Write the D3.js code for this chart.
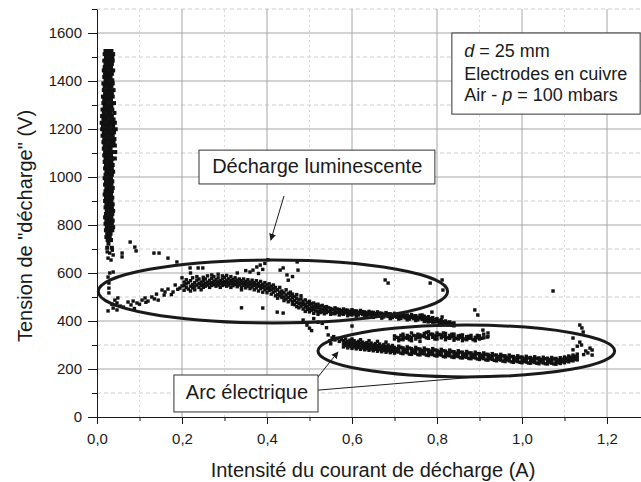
<!DOCTYPE html>
<html>
<head>
<meta charset="utf-8">
<style>
  body { margin: 0; background: #fff; }
  text { font-family: "Liberation Sans", Arial, sans-serif; fill: #1a1a1a; }
</style>
</head>
<body>
<script src="https://d3js.org/d3.v7.min.js"></script>
<script>
var width = 641, height = 482;

// axis ticks
var xTicks = [0, 0.2, 0.4, 0.6, 0.8, 1.0, 1.2];
var xMinor = [0.1, 0.3, 0.5, 0.7, 0.9, 1.1];
var yTicks = [0, 200, 400, 600, 800, 1000, 1200, 1400, 1600];
var yMinor = [100, 300, 500, 700, 900, 1100, 1300, 1500, 1700];

// pre-breakdown column: rows of voltage with the currents seen at that voltage
var barRows = [
  [1525, [.020, .027, .034]], [1512, [.018, .025, .033, .038]], [1498, [.021, .029, .036]],
  [1485, [.017, .024, .031, .037]], [1471, [.020, .028, .035]], [1458, [.018, .026, .033]],
  [1444, [.016, .023, .031, .038]], [1430, [.019, .027, .035]], [1417, [.017, .025, .032]],
  [1403, [.020, .028, .036]], [1390, [.015, .022, .030, .037]], [1376, [.018, .026, .034]],
  [1362, [.016, .024, .031, .039]], [1349, [.019, .027, .035]], [1335, [.014, .021, .029, .037]],
  [1322, [.017, .025, .033]], [1308, [.015, .023, .031, .040]], [1294, [.018, .026, .034]],
  [1281, [.013, .020, .028, .036]], [1267, [.016, .024, .032, .041]], [1254, [.012, .019, .027, .035]],
  [1240, [.015, .023, .031, .039]], [1226, [.011, .018, .026, .034, .042]], [1213, [.014, .022, .030, .038]],
  [1199, [.012, .020, .028, .036, .044]], [1186, [.016, .024, .032, .040]], [1172, [.013, .021, .029, .037]],
  [1158, [.017, .025, .033, .041]], [1145, [.015, .023, .031, .039]], [1131, [.018, .026, .034, .042]],
  [1118, [.016, .024, .032]], [1104, [.019, .027, .035, .043]], [1090, [.017, .025, .033]],
  [1077, [.020, .028, .036, .042]], [1063, [.018, .026, .034]], [1050, [.021, .029, .037]],
  [1036, [.019, .027, .035]], [1022, [.022, .030, .038]], [1009, [.020, .028, .035]],
  [995, [.018, .026, .033]], [982, [.021, .029, .036]], [968, [.019, .027, .034]],
  [954, [.022, .030, .037]], [941, [.020, .028, .035]], [927, [.018, .026, .033]],
  [914, [.021, .029, .036]], [900, [.019, .027, .034]], [886, [.022, .030, .037]],
  [873, [.020, .028, .035]], [859, [.023, .031, .038]], [846, [.021, .029, .036]],
  [832, [.019, .027, .034]], [818, [.022, .030, .037]], [805, [.020, .028, .035]],
  [791, [.023, .031, .038]], [778, [.021, .029, .036]], [764, [.024, .032]],
  [750, [.022, .030]], [737, [.025, .033]], [722, [.027]], [705, [.024, .035]]
];

// scattered points between the column and the glow discharge
var transPts = [
  [.024, 688], [.030, 683], [.038, 675], [.026, 662], [.033, 654], [.036, 695], [.059, 683], [.059, 667],
  [.078, 729], [.089, 708], [.092, 692], [.134, 683], [.146, 683], [.167, 662], [.188, 646],
  [.038, 604], [.026, 583], [.030, 600]
];

// glow discharge: currents with the voltages seen at that current
var glowCols = [
  [.028, [558, 537, 517]], [.026, [442]], [.035, [470]], [.038, [454]], [.042, [487]], [.047, [475, 446]],
  [.049, [496]], [.055, [462]], [.062, [458]], [.073, [479]], [.080, [467]], [.085, [483]],
  [.088, [452]], [.094, [475]], [.100, [470]], [.106, [487]], [.113, [496]], [.115, [478]],
  [.120, [483]], [.129, [500]], [.135, [492]], [.140, [512]], [.144, [487]], [.153, [529]],
  [.158, [508]], [.160, [521]], [.167, [533]], [.175, [510]], [.179, [521]], [.184, [550]],
  [.190, [532]], [.195, [537]], [.200, [546]],
  [.205, [548, 528, 562]], [.210, [540, 555, 572]], [.215, [533, 560]], [.220, [545, 568, 525]],
  [.225, [552, 538, 580]], [.230, [560, 545, 530]], [.235, [570, 550, 585]], [.240, [556, 540, 575]],
  [.245, [562, 548, 530]], [.250, [568, 553, 540, 582]], [.255, [575, 558, 545]], [.260, [562, 550, 588]],
  [.265, [570, 555, 540]], [.270, [578, 560, 548, 592]], [.275, [566, 552, 585]], [.280, [572, 558, 545]],
  [.285, [580, 563, 550, 595]], [.290, [568, 555, 540]], [.295, [575, 560, 548, 588]], [.300, [582, 565, 552]],
  [.305, [570, 558, 545, 590]], [.310, [576, 562, 550]], [.315, [568, 555, 540, 585]], [.320, [573, 560, 547]],
  [.325, [566, 552, 580]], [.330, [570, 557, 543]], [.335, [562, 550, 575]], [.340, [568, 555, 540, 530]],
  [.345, [560, 548, 575]], [.350, [565, 552, 538]], [.355, [558, 545, 572]], [.360, [562, 550, 535]],
  [.365, [555, 542, 570]], [.370, [560, 548, 530]], [.375, [552, 538, 568]], [.380, [557, 545, 525]],
  [.385, [548, 535, 565]], [.390, [553, 540, 520]], [.395, [545, 530, 560]], [.400, [550, 535, 518]],
  [.405, [540, 528, 555]], [.410, [545, 530, 512]], [.415, [535, 520, 550]], [.420, [540, 525, 505]],
  [.425, [530, 510, 495]], [.430, [520, 505, 540]], [.435, [512, 498, 525]], [.440, [518, 500, 485]],
  [.445, [508, 492, 530]], [.450, [515, 498, 480]], [.455, [505, 488, 520]], [.460, [498, 482, 470, 512]],
  [.465, [502, 485, 468]], [.470, [495, 478, 510, 460]], [.475, [488, 472, 455]], [.480, [492, 475, 462, 505]],
  [.485, [482, 468, 450]], [.490, [488, 470, 458, 440]], [.495, [478, 462, 448]], [.500, [482, 468, 452, 438]],
  [.505, [472, 458, 445]], [.510, [475, 460, 448, 432]], [.515, [468, 455, 442]], [.520, [470, 456, 440, 428]],
  [.525, [462, 448, 435]], [.530, [465, 450, 438]], [.535, [458, 445, 430]], [.540, [460, 447, 435]],
  [.550, [452, 440, 428]], [.560, [455, 442, 430]], [.570, [448, 436, 425]], [.580, [450, 438, 428]],
  [.590, [445, 432, 422]], [.600, [447, 435, 425]], [.610, [442, 430, 420]], [.620, [444, 432]],
  [.630, [438, 426, 418]], [.640, [440, 428]], [.650, [436, 424, 415]], [.660, [438, 426]],
  [.670, [432, 420, 412]], [.680, [435, 423]], [.690, [430, 418, 410]], [.700, [432, 420]],
  [.710, [428, 416, 408]], [.720, [430, 418]], [.730, [425, 413, 405]], [.740, [427, 415]],
  [.750, [422, 410, 402]], [.760, [424, 412]], [.770, [420, 408, 398]], [.780, [418, 405]],
  [.790, [414, 402, 395]], [.800, [410, 398]], [.810, [406, 394, 388]], [.820, [400, 390]],
  [.830, [396, 385]], [.840, [392, 380]],
  [.545, [455, 440]], [.555, [448, 432]], [.565, [450, 436]], [.575, [444, 430]], [.585, [446, 434]],
  [.595, [440, 428]], [.605, [442, 430]], [.615, [437, 425]], [.625, [439, 427]], [.635, [434, 422]],
  [.645, [436, 424]], [.655, [431, 420]], [.665, [433, 421]], [.675, [428, 417]], [.685, [430, 419]],
  [.695, [425, 414]], [.705, [427, 416]], [.715, [422, 411]], [.725, [424, 413]], [.735, [419, 408]],
  [.745, [421, 410]], [.755, [416, 405]], [.765, [418, 407]], [.775, [413, 402]], [.785, [410, 399]],
  [.795, [406, 396]], [.805, [402, 392]], [.815, [398, 388]], [.825, [394, 384]], [.835, [390, 382]]
];

var glowOut = [
  [.200, 580], [.219, 621], [.220, 600], [.238, 621], [.249, 621], [.330, 600], [.350, 610],
  [.360, 604], [.367, 612], [.376, 625], [.380, 598], [.384, 633], [.390, 615], [.395, 640], [.402, 655],
  [.431, 612], [.438, 621], [.447, 592], [.450, 570], [.460, 585], [.471, 646], [.473, 612],
  [.340, 455], [.390, 454], [.424, 437], [.438, 433], [.485, 404], [.494, 383], [.500, 370], [.505, 360],
  [.510, 410], [.520, 395], [.530, 390], [.540, 372], [.600, 379],
  [.678, 571], [.685, 558], [.784, 558], [.812, 571], [.814, 529],
  [.765, 425], [.788, 437], [.812, 417], [.772, 412], [.779, 396], [.889, 446], [.896, 425]
];

// electric arc: currents with the voltages seen at that current
var arcCols = [
  [.544, [342]], [.548, [318]], [.550, [305]], [.553, [329]], [.557, [335]], [.560, [321]],
  [.565, [328]], [.570, [315]], [.575, [322]],
  [.580, [318, 305, 292]], [.585, [325, 310, 298]], [.590, [315, 302, 288]], [.595, [320, 307, 295]],
  [.600, [312, 300, 286, 325]], [.605, [318, 305, 292]], [.610, [310, 297, 284]], [.615, [315, 302, 290]],
  [.620, [308, 295, 282, 322]], [.625, [312, 300, 288]], [.630, [305, 293, 280]], [.635, [310, 298, 285]],
  [.640, [303, 290, 278, 318]], [.645, [308, 296, 283]], [.650, [300, 288, 276]], [.655, [306, 294, 282]],
  [.660, [298, 286, 274, 315]], [.665, [304, 292, 280]], [.670, [296, 284, 272]], [.675, [302, 290, 278]],
  [.680, [294, 282, 270, 312]], [.685, [300, 288, 276]], [.690, [292, 280, 268]], [.695, [298, 286, 274]],
  [.700, [290, 278, 266]], [.710, [295, 283, 271]], [.720, [288, 276, 264]], [.730, [292, 280, 268]],
  [.740, [285, 273, 261]], [.750, [290, 278, 266]], [.760, [283, 271, 259]], [.770, [287, 275, 263]],
  [.780, [280, 268, 256]], [.790, [285, 272, 260]], [.800, [278, 266, 254]], [.810, [282, 270, 258]],
  [.820, [275, 263, 251]], [.830, [279, 267, 255]], [.840, [272, 260, 248]], [.850, [276, 264, 252]],
  [.860, [270, 258, 246]], [.870, [273, 261, 249]], [.880, [267, 255, 243]], [.890, [270, 258, 246]],
  [.900, [264, 252, 240]], [.910, [267, 255, 243]], [.920, [261, 249, 237]], [.930, [264, 252, 240]],
  [.940, [258, 246, 234]], [.950, [261, 249, 237]], [.960, [255, 243, 231]], [.970, [258, 246, 234]],
  [.980, [252, 240, 228]], [.990, [255, 243, 231]], [1.000, [250, 238, 226]], [1.010, [253, 241, 229]],
  [1.020, [248, 236, 224]], [1.030, [251, 239, 227]], [1.040, [246, 234, 222]], [1.050, [249, 237, 225]],
  [1.060, [245, 233, 221]], [1.070, [248, 236, 224]], [1.080, [244, 232, 220]], [1.090, [247, 235, 223]],
  [1.100, [250, 238, 226]], [1.110, [254, 242, 230]], [1.120, [258, 246, 234]], [1.130, [262, 250, 238]],
  [.705, [284, 272]], [.715, [290, 266]], [.725, [282, 270]], [.735, [287, 262]], [.745, [279, 268]],
  [.755, [284, 260]], [.765, [277, 265]], [.775, [281, 258]], [.785, [274, 262]], [.795, [279, 256]],
  [.805, [272, 260]], [.815, [276, 252]], [.825, [269, 257]], [.835, [273, 250]], [.845, [266, 254]],
  [.855, [270, 247]], [.865, [263, 251]], [.875, [267, 244]], [.885, [261, 249]], [.895, [264, 242]],
  [.905, [258, 246]], [.915, [261, 238]], [.925, [255, 243]], [.935, [258, 236]], [.945, [252, 240]],
  [.955, [255, 233]], [.965, [249, 237]], [.975, [252, 230]], [.985, [246, 234]], [.995, [249, 228]],
  [1.005, [244, 232]], [1.015, [246, 225]], [1.025, [242, 230]], [1.035, [244, 224]], [1.045, [240, 229]],
  [1.055, [243, 222]], [1.065, [239, 228]], [1.075, [242, 221]], [1.085, [238, 227]], [1.095, [241, 230]],
  [1.105, [245, 233]], [1.115, [249, 236]], [1.125, [253, 240]]
];

var arcUpper = [
  [.700, [325, 338]], [.710, [330, 318]], [.720, [335, 322, 345]], [.730, [328, 340]],
  [.740, [332, 318, 350]], [.750, [338, 325]], [.760, [342, 330, 315]], [.770, [335, 348]],
  [.780, [340, 328, 355]], [.790, [345, 332]], [.800, [338, 350, 325]], [.810, [342, 330]],
  [.820, [335, 348, 322]], [.830, [340, 328]], [.840, [333, 345, 320]], [.850, [338, 325]],
  [.860, [330, 342, 318]], [.870, [335, 322]], [.880, [328, 340]], [.890, [332, 318]],
  [.900, [325, 338]], [.910, [330, 345]], [.920, [335]],
  [.705, [332]], [.715, [324, 340]], [.725, [330]], [.735, [335, 322]], [.745, [340]],
  [.755, [332, 345]], [.765, [338]], [.775, [330, 352]], [.785, [345]], [.795, [338, 325]],
  [.805, [344]], [.815, [336, 350]], [.825, [330]], [.835, [345, 335]], [.845, [328]],
  [.855, [340, 332]], [.865, [325]], [.875, [336, 328]], [.885, [322]], [.895, [330, 340]], [.905, [328]]
];

var arcOut = [
  [1.136, 383], [1.141, 371], [1.144, 354], [1.120, 329], [1.136, 312], [1.160, 287], [1.165, 279],
  [1.155, 267], [1.165, 258], [1.140, 300], [1.150, 275], [1.120, 280], [1.130, 295], [1.145, 260],
  [1.073, 525], [.908, 362], [.918, 333], [.920, 350]
];

// annotations, in data units
var glowEllipse = {cx: .414, cy: 523, rx: .411, ry: 131};
var arcEllipse = {cx: .869, cy: 275, rx: .349, ry: 108};
var glowLabel = {text: "Décharge luminescente", x0: .240, x1: .795, y0: 1112, y1: 971, tx: .271, ty: 1017};
var arcLabel = {text: "Arc électrique", x0: .181, x1: .520, y0: 175, y1: 21, tx: .209, ty: 75};
var infoBox = {x0: .835, x1: 1.278, y0: 1600, y1: 1262, tx: .864, ty: [1500, 1404, 1317]};

function fromRows(rows) {
  return rows.flatMap(function(r) { return r[1].map(function(xv) { return [xv, r[0]]; }); });
}
function fromCols(cols) {
  return cols.flatMap(function(c) { return c[1].map(function(v) { return [c[0], v]; }); });
}

var barPoints = fromRows(barRows);
var points = []
  .concat(transPts)
  .concat(fromCols(glowCols))
  .concat(glowOut)
  .concat(fromCols(arcCols))
  .concat(fromCols(arcUpper))
  .concat(arcOut);

var x = d3.scaleLinear().domain([0, 1.28]).range([97, 641]);
var y = d3.scaleLinear().domain([0, 1700]).range([417, 9]);

var svg = d3.select("body").append("svg")
    .attr("width", width)
    .attr("height", height);

svg.append("defs").append("marker")
    .attr("id", "head")
    .attr("viewBox", "0 0 10 10")
    .attr("refX", 9).attr("refY", 5)
    .attr("markerWidth", 7).attr("markerHeight", 7)
    .attr("markerUnits", "userSpaceOnUse")
    .attr("orient", "auto")
  .append("path")
    .attr("d", "M0,0 L10,5 L0,10 z")
    .attr("fill", "#1a1a1a");

// grid: minor dashed, major solid
svg.append("g").selectAll("line").data(yMinor).enter().append("line")
    .attr("x1", x(0)).attr("x2", x(1.28))
    .attr("y1", function(d) { return y(d); }).attr("y2", function(d) { return y(d); })
    .attr("stroke", "#cfcfcf").attr("stroke-dasharray", "4,3");
svg.append("g").selectAll("line").data(xMinor).enter().append("line")
    .attr("y1", y(0)).attr("y2", y(1700))
    .attr("x1", function(d) { return x(d); }).attr("x2", function(d) { return x(d); })
    .attr("stroke", "#d8d8d8").attr("stroke-dasharray", "2,3");
svg.append("g").selectAll("line").data(yTicks.slice(1)).enter().append("line")
    .attr("x1", x(0)).attr("x2", x(1.28))
    .attr("y1", function(d) { return y(d); }).attr("y2", function(d) { return y(d); })
    .attr("stroke", "#a6a6a6");
svg.append("g").selectAll("line").data(xTicks.slice(1)).enter().append("line")
    .attr("y1", y(0)).attr("y2", y(1700))
    .attr("x1", function(d) { return x(d); }).attr("x2", function(d) { return x(d); })
    .attr("stroke", "#a6a6a6");

// measured points
svg.append("g").selectAll("rect").data(barPoints).enter().append("rect")
    .attr("x", function(d) { return x(d[0]) - 2; })
    .attr("y", function(d) { return y(d[1]) - 2; })
    .attr("width", 4).attr("height", 4)
    .attr("fill", "#111");
svg.append("g").selectAll("rect").data(points).enter().append("rect")
    .attr("x", function(d) { return x(d[0]) - 1.7; })
    .attr("y", function(d) { return y(d[1]) - 1.7; })
    .attr("width", 3.4).attr("height", 3.4)
    .attr("fill", "#111");

// ellipses round the two regimes
[glowEllipse, arcEllipse].forEach(function(e) {
  svg.append("ellipse")
      .attr("cx", x(e.cx)).attr("cy", y(e.cy))
      .attr("rx", x(e.rx) - x(0)).attr("ry", y(0) - y(e.ry))
      .attr("fill", "none").attr("stroke", "#1a1a1a").attr("stroke-width", 3);
});

// pointers
svg.append("line")
    .attr("x1", x(.440)).attr("y1", y(921)).attr("x2", x(.409)).attr("y2", y(737))
    .attr("stroke", "#1a1a1a").attr("marker-end", "url(#head)");
svg.append("line")
    .attr("x1", x(.520)).attr("y1", y(167)).attr("x2", x(.567)).attr("y2", y(271))
    .attr("stroke", "#1a1a1a").attr("marker-end", "url(#head)");
svg.append("line")
    .attr("x1", x(.520)).attr("y1", y(112)).attr("x2", x(.894)).attr("y2", y(167))
    .attr("stroke", "#1a1a1a");

// label boxes
[glowLabel, arcLabel].forEach(function(b) {
  svg.append("rect")
      .attr("x", x(b.x0)).attr("y", y(b.y0))
      .attr("width", x(b.x1) - x(b.x0)).attr("height", y(b.y1) - y(b.y0))
      .attr("fill", "#fff").attr("stroke", "#333");
  svg.append("text")
      .attr("x", x(b.tx)).attr("y", y(b.ty))
      .style("font-size", "20px")
      .text(b.text);
});

svg.append("rect")
    .attr("x", x(infoBox.x0)).attr("y", y(infoBox.y0))
    .attr("width", x(infoBox.x1) - x(infoBox.x0)).attr("height", y(infoBox.y1) - y(infoBox.y0))
    .attr("fill", "#fff").attr("stroke", "#333");
var info = svg.append("g").style("font-size", "18px");
var l1 = info.append("text").attr("x", x(infoBox.tx)).attr("y", y(infoBox.ty[0]));
l1.append("tspan").style("font-style", "italic").text("d");
l1.append("tspan").text(" = 25 mm");
info.append("text").attr("x", x(infoBox.tx)).attr("y", y(infoBox.ty[1])).text("Electrodes en cuivre");
var l3 = info.append("text").attr("x", x(infoBox.tx)).attr("y", y(infoBox.ty[2]));
l3.append("tspan").text("Air - ");
l3.append("tspan").style("font-style", "italic").text("p");
l3.append("tspan").text(" = 100 mbars");

// axes
var fmtX = function(d) { return d3.format(".1f")(d).replace(".", ","); };

svg.append("g")
    .attr("transform", "translate(0," + y(0) + ")")
    .call(d3.axisBottom(x).tickValues(xTicks).tickSize(7).tickSizeOuter(0).tickPadding(9).tickFormat(fmtX));
svg.append("g")
    .attr("transform", "translate(0," + y(0) + ")")
    .call(d3.axisBottom(x).tickValues(xMinor).tickSize(4).tickSizeOuter(0).tickFormat(""))
    .select(".domain").remove();

svg.append("g")
    .attr("transform", "translate(" + x(0) + ",0)")
    .call(d3.axisLeft(y).tickValues(yTicks).tickSize(9).tickSizeOuter(0).tickPadding(6).tickFormat(d3.format("d")));
svg.append("g")
    .attr("transform", "translate(" + x(0) + ",0)")
    .call(d3.axisLeft(y).tickValues(yMinor).tickSize(5).tickSizeOuter(0).tickFormat(""))
    .select(".domain").remove();

svg.selectAll(".tick text")
    .style("font-size", "15px")
    .style("font-family", "'Liberation Sans', Arial, sans-serif")
    .attr("fill", "#1a1a1a");
svg.selectAll(".domain, .tick line").attr("stroke", "#1a1a1a");

svg.append("text")
    .attr("x", 373).attr("y", 477)
    .attr("text-anchor", "middle")
    .style("font-size", "20px")
    .text("Intensité du courant de décharge (A)");

svg.append("text")
    .attr("transform", "translate(32,226) rotate(-90)")
    .attr("text-anchor", "middle")
    .style("font-size", "20px")
    .text("Tension de \"décharge\" (V)");
</script>
</body>
</html>
